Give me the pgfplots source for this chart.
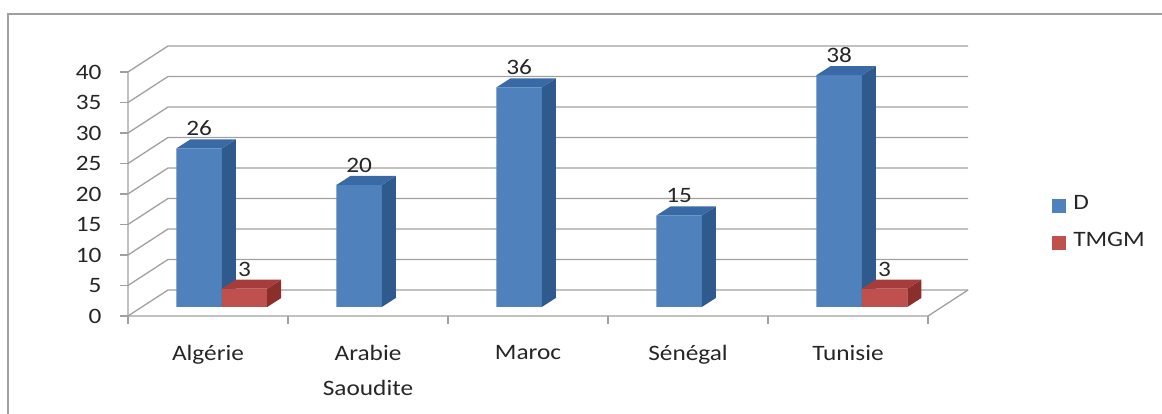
\documentclass[border=0pt]{standalone}
\usepackage{fontspec}
\setmainfont{Carlito}[FakeStretch=1.15]
\usepackage{pgfplots}
\pgfplotsset{compat=1.18}
\usepackage{pgfplotstable}
\definecolor{blueF}{HTML}{4F81BD}
\definecolor{blueS}{HTML}{2E5A8E}
\definecolor{blueT}{HTML}{3A6AA6}
\definecolor{redF}{HTML}{C0504D}
\definecolor{redS}{HTML}{8C2F2C}
\definecolor{redT}{HTML}{A63D3A}
\definecolor{gridc}{HTML}{A0A0A0}
\definecolor{txt}{HTML}{262626}
\newcommand\fs{\fontsize{22}{35}\selectfont}

\pgfplotstableread{
x D
0 26
1 20
2 36
3 15
4 38
}\Ddata
\pgfplotstableread{
x T
0 3
4 3
}\Tdata

% side and top faces of a bar: #1 left x, #2 right x, #3 value, #4 side colour, #5 top colour
\newcommand\prism[5]{%
  \pgfmathsetmacro\xl{#1}\pgfmathsetmacro\xr{#2}%
  \pgfmathsetmacro\xrr{#2+0.0875}\pgfmathsetmacro\xlr{#1+0.0875}%
  \pgfmathsetmacro\yv{#3}\pgfmathsetmacro\yvv{#3+1.475}%
  \edef\tmp{\noexpand\addplot[forget plot,draw=none,fill=#4] coordinates {(\xr,0) (\xrr,1.475) (\xrr,\yvv) (\xr,\yv)};
  \noexpand\addplot[forget plot,draw=none,fill=#5] coordinates {(\xl,\yv) (\xlr,\yvv) (\xrr,\yvv) (\xr,\yv)};}%
  \tmp}

\begin{document}
\begin{tikzpicture}[x=1pt,y=1pt]
\useasboundingbox (0,0) rectangle (1162,414);
\draw[color=gridc, line width=1.6pt] (8,0) -- (8,400) -- (1162,400);
\begin{axis}[
  at={(128pt,98pt)}, anchor=south west,
  scale only axis, width=842pt, height=271pt,
  xmin=-0.58625, xmax=4.676, ymin=-1.4754, ymax=42.95,
  clip=false,
  axis line style={draw=none},
  tick pos=left, tick align=outside,
  major tick length=8pt,
  tick style={draw=gridc, line width=1.2pt},
  /pgf/number format/assume math mode=true,
  ytick={-1.4754,3.5246,8.5246,13.5246,18.5246,23.5246,28.5246,33.5246,38.5246},
  yticklabels={0,5,10,15,20,25,30,35,40},
  yticklabel style={font=\fs, color=txt, xshift=-15pt},
  xtick={-0.58625,0.41375,1.41375,2.41375,3.41375,4.41375},
  xticklabels={},
  extra x ticks={-0.08625,0.91375,1.91375,2.91375,3.91375},
  extra x tick labels={Algérie,{Arabie\\Saoudite},Maroc,Sénégal,Tunisie},
  extra x tick style={major tick length=0pt, tick style={draw=none},
     xticklabel style={font=\fs, color=txt, align=center, anchor=north, yshift=-26pt}},
  legend style={at={(axis description cs:1.097,0.347)}, anchor=west, draw=none, fill=none,
     font=\fs, text=txt, row sep=20pt, inner sep=0pt,
     nodes={inner xsep=8pt, inner ysep=0pt}},
  legend cell align=left,
]
% walls and floor
\pgfplotsinvokeforeach{0,5,10,15,20,25,30,35,40}{
  \draw[color=gridc, line width=1.3pt] (axis cs:-0.58625,{#1-1.4754}) -- (axis cs:-0.33625,{#1+2.7869}) -- (axis cs:4.66375,{#1+2.7869});
}
\draw[color=gridc, line width=1.3pt] (axis cs:-0.58625,38.5246) -- (axis cs:-0.58625,-1.4754) -- (axis cs:4.41375,-1.4754) -- (axis cs:4.66375,2.7869);

\addlegendimage{legend image code/.code={\fill[blueF] (0pt,-9pt) rectangle (13pt,4pt);}}
\addlegendentry{D}
\addlegendimage{legend image code/.code={\fill[redF] (0pt,-9pt) rectangle (13pt,4pt);}}
\addlegendentry{TMGM}

% D series
\addplot[forget plot, ybar, bar width=0.284, bar shift=-0.142, draw=none, fill=blueF,
  nodes near coords, nodes near coords style={font=\fs, color=txt, anchor=south, yshift=9pt, xshift=-22.7pt}]
  table[x=x, y=D] {\Ddata};
\prism{-0.284}{0}{26}{blueS}{blueT}
\prism{0.716}{1}{20}{blueS}{blueT}
\prism{1.716}{2}{36}{blueS}{blueT}
\prism{2.716}{3}{15}{blueS}{blueT}
\prism{3.716}{4}{38}{blueS}{blueT}
% TMGM series
\addplot[forget plot, ybar, bar width=0.284, bar shift=0.142, draw=none, fill=redF,
  nodes near coords, nodes near coords style={font=\fs, color=txt, anchor=south, yshift=9pt, xshift=22.7pt}]
  table[x=x, y=T] {\Tdata};
\prism{0}{0.284}{3}{redS}{redT}
\prism{4}{4.284}{3}{redS}{redT}
\end{axis}
\end{tikzpicture}
\end{document}
